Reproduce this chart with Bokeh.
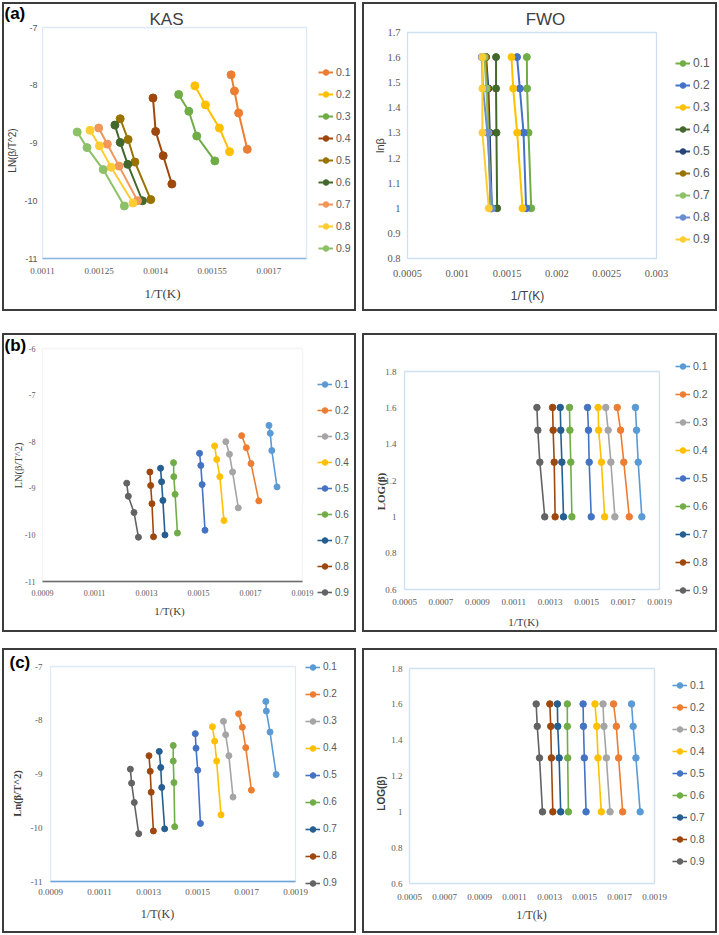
import math
from bokeh.plotting import figure
from bokeh.models import Legend, LegendItem, Label, FixedTicker, Range1d, Spacer, BoxAnnotation
from bokeh.layouts import column, row
from bokeh.embed import file_html
from bokeh.resources import INLINE

# ---------------- data ----------------
conversion = ["0.1", "0.2", "0.3", "0.4", "0.5", "0.6", "0.7", "0.8", "0.9"]
log_beta = [1.602, 1.477, 1.301, 1.0]  # heating rates 40, 30, 20, 10

# (a) KAS
kas_a_x = [
    [0.001600, 0.001609, 0.001620, 0.001643],
    [0.001504, 0.001532, 0.001569, 0.001596],
    [0.001461, 0.001488, 0.001509, 0.001557],
    [0.001393, 0.001400, 0.001420, 0.001443],
    [0.001306, 0.001327, 0.001345, 0.001387],
    [0.001292, 0.001306, 0.001326, 0.001365],
    [0.001249, 0.001272, 0.001303, 0.001352],
    [0.001226, 0.001251, 0.001282, 0.001340],
    [0.001192, 0.001218, 0.001261, 0.001317],
]
kas_a_y = [
    [-7.82, -8.10, -8.48, -9.11],
    [-8.01, -8.34, -8.74, -9.15],
    [-8.16, -8.45, -8.88, -9.31],
    [-8.22, -8.80, -9.22, -9.71],
    [-8.58, -8.94, -9.33, -9.98],
    [-8.69, -8.99, -9.37, -10.00],
    [-8.74, -9.02, -9.40, -10.00],
    [-8.78, -9.05, -9.42, -10.04],
    [-8.81, -9.08, -9.46, -10.09],
]
# (a) FWO
fwo_a_x = [
    [0.001698, 0.001701, 0.001715, 0.001742],
    [0.001600, 0.001628, 0.001665, 0.001691],
    [0.001544, 0.001561, 0.001601, 0.001655],
    [0.001389, 0.001389, 0.001393, 0.001400],
    [0.001289, 0.001312, 0.001326, 0.001346],
    [0.001285, 0.001302, 0.001316, 0.001332],
    [0.001272, 0.001292, 0.001309, 0.001339],
    [0.001245, 0.001258, 0.001302, 0.001349],
    [0.001252, 0.001252, 0.001252, 0.001316],
]
# (b) KAS
kas_b_x = [
    [0.001771, 0.001776, 0.001782, 0.001802],
    [0.001666, 0.001684, 0.001702, 0.001732],
    [0.001605, 0.001619, 0.001631, 0.001653],
    [0.001562, 0.001570, 0.001582, 0.001598],
    [0.001504, 0.001509, 0.001514, 0.001525],
    [0.001404, 0.001405, 0.001410, 0.001419],
    [0.001354, 0.001358, 0.001363, 0.001371],
    [0.001313, 0.001316, 0.001321, 0.001327],
    [0.001224, 0.001230, 0.001252, 0.001269],
]
kas_b_y = [
    [-7.65, -7.82, -8.19, -8.97],
    [-7.87, -8.13, -8.47, -9.27],
    [-8.00, -8.27, -8.65, -9.42],
    [-8.09, -8.38, -8.75, -9.69],
    [-8.25, -8.51, -8.92, -9.90],
    [-8.45, -8.75, -9.13, -9.96],
    [-8.57, -8.86, -9.26, -10.00],
    [-8.65, -8.94, -9.33, -10.04],
    [-8.89, -9.17, -9.52, -10.05],
]
# (b) FWO
fwo_b_x = [
    [0.001768, 0.001774, 0.001783, 0.001803],
    [0.001668, 0.001686, 0.001704, 0.001734],
    [0.001605, 0.001618, 0.001633, 0.001655],
    [0.001563, 0.001566, 0.001581, 0.001599],
    [0.001505, 0.001510, 0.001514, 0.001525],
    [0.001406, 0.001408, 0.001413, 0.001419],
    [0.001355, 0.001358, 0.001364, 0.001373],
    [0.001313, 0.001316, 0.001322, 0.001327],
    [0.001227, 0.001232, 0.001243, 0.001270],
]
# (c) KAS
kas_c_x = [
    [0.001779, 0.001781, 0.001796, 0.001821],
    [0.001668, 0.001683, 0.001697, 0.001720],
    [0.001606, 0.001615, 0.001628, 0.001645],
    [0.001561, 0.001570, 0.001578, 0.001596],
    [0.001491, 0.001494, 0.001501, 0.001512],
    [0.001401, 0.001401, 0.001404, 0.001407],
    [0.001344, 0.001350, 0.001354, 0.001366],
    [0.001302, 0.001307, 0.001311, 0.001320],
    [0.001226, 0.001231, 0.001242, 0.001260],
]
kas_c_y = [
    [-7.65, -7.83, -8.22, -9.01],
    [-7.88, -8.13, -8.51, -9.30],
    [-8.02, -8.27, -8.66, -9.43],
    [-8.12, -8.39, -8.76, -9.76],
    [-8.25, -8.52, -8.93, -9.92],
    [-8.47, -8.76, -9.16, -9.98],
    [-8.58, -8.88, -9.25, -10.02],
    [-8.66, -8.95, -9.34, -10.06],
    [-8.91, -9.17, -9.53, -10.11],
]
# (c) FWO
fwo_c_x = [
    [0.001769, 0.001778, 0.001794, 0.001818],
    [0.001666, 0.001682, 0.001695, 0.001718],
    [0.001606, 0.001611, 0.001625, 0.001646],
    [0.001560, 0.001570, 0.001577, 0.001596],
    [0.001492, 0.001494, 0.001499, 0.001509],
    [0.001402, 0.001402, 0.001404, 0.001408],
    [0.001345, 0.001347, 0.001355, 0.001364],
    [0.001302, 0.001307, 0.001311, 0.001319],
    [0.001224, 0.001230, 0.001243, 0.001260],
]

# axis ranges and ticks
kas_a_xrange = (0.0011, 0.0018)
kas_a_yrange = (-11, -7)
kas_a_xticks = [0.0011, 0.00125, 0.0014, 0.00155, 0.0017]
kas_a_xlabels = ["0.0011", "0.00125", "0.0014", "0.00155", "0.0017"]
kas_a_yticks = [-7, -8, -9, -10, -11]
kas_a_ylabels = ["-7", "-8", "-9", "-10", "-11"]
fwo_a_xrange = (0.0005, 0.003)
fwo_a_yrange = (0.8, 1.7)
fwo_a_xticks = [0.0005, 0.001, 0.0015, 0.002, 0.0025, 0.003]
fwo_a_xlabels = ["0.0005", "0.001", "0.0015", "0.002", "0.0025", "0.003"]
fwo_a_yticks = [0.8, 0.9, 1.0, 1.1, 1.2, 1.3, 1.4, 1.5, 1.6, 1.7]
fwo_a_ylabels = ["0.8", "0.9", "1", "1.1", "1.2", "1.3", "1.4", "1.5", "1.6", "1.7"]
kas_bc_xrange = (0.0009, 0.0019)
kas_bc_xticks = [0.0009, 0.0011, 0.0013, 0.0015, 0.0017, 0.0019]
kas_bc_xlabels = ["0.0009", "0.0011", "0.0013", "0.0015", "0.0017", "0.0019"]
kas_b_yrange = (-11, -6)
kas_b_yticks = [-6, -7, -8, -9, -10, -11]
kas_b_ylabels = ["-6", "-7", "-8", "-9", "-10", "-11"]
kas_c_yrange = (-11, -7)
kas_c_yticks = [-7, -8, -9, -10, -11]
kas_c_ylabels = ["-7", "-8", "-9", "-10", "-11"]
fwo_bc_xrange = (0.0005, 0.0019)
fwo_bc_yrange = (0.6, 1.8)
fwo_bc_xticks = [0.0005, 0.0007, 0.0009, 0.0011, 0.0013, 0.0015, 0.0017, 0.0019]
fwo_bc_xlabels = ["0.0005", "0.0007", "0.0009", "0.0011", "0.0013", "0.0015", "0.0017", "0.0019"]
fwo_bc_yticks = [0.6, 0.8, 1.0, 1.2, 1.4, 1.6, 1.8]
fwo_bc_ylabels = ["0.6", "0.8", "1", "1.2", "1.4", "1.6", "1.8"]

# colours (Excel palettes)
kas_a_colors = ["#ED7D31", "#FFC000", "#70AD47", "#9E480E", "#997300", "#43682B", "#F1975A", "#FFCD33", "#8CC168"]
fwo_a_colors = ["#70AD47", "#4472C4", "#FFC000", "#43682B", "#264478", "#997300", "#8CC168", "#698ED0", "#FFCD33"]
bc_colors = ["#5B9BD5", "#ED7D31", "#A5A5A5", "#FFC000", "#4472C4", "#70AD47", "#255E91", "#9E480E", "#636363"]

S = 1.0
SERIF = "Liberation Serif"
SANS = "Liberation Sans"


def panel(box, frame, xr, yr, xt, xl, yt, yl, xs, ys, colors, outline, texts, leg,
          xfont=SERIF, yfont=SERIF, tsize=9, xstand=8, ystand=6, msize=7, lw=2,
          leg_font=10.5, bottom_color=None):
    bx0, by0, bx1, by1 = box
    fx0, fy0, fx1, fy1 = frame
    w = round((bx1 - bx0) * S)
    h = round((by1 - by0) * S)
    # pixel position of the chart's plot area inside the panel (y from bottom)
    px0, px1 = (fx0 - bx0) * S, (fx1 - bx0) * S
    py0, py1 = (by1 - fy1) * S, (by1 - fy0) * S
    x0, x1 = xr
    y0, y1 = yr
    kx = (x1 - x0) / (px1 - px0)
    ky = (y1 - y0) / (py1 - py0)
    xs0 = x0 - px0 * kx
    ys0 = y0 - py0 * ky
    p = figure(width=w, height=h, x_range=Range1d(xs0, xs0 + w * kx), y_range=Range1d(ys0, ys0 + h * ky),
               output_backend="svg", toolbar_location=None, min_border=0)
    p.xgrid.visible = False
    p.ygrid.visible = False
    p.outline_line_color = "#3c3c3c"
    p.outline_line_width = 3
    p.add_layout(BoxAnnotation(left=x0, right=x1, bottom=y0, top=y1, fill_alpha=0,
                               line_color=outline, line_width=1.3))

    p.xaxis.fixed_location = y0
    p.xaxis.bounds = (x0, x1)
    p.yaxis.fixed_location = x0
    p.yaxis.bounds = (y0, y1)
    p.xaxis.ticker = FixedTicker(ticks=xt)
    p.xaxis.major_label_overrides = dict(zip(xt, xl))
    p.yaxis.ticker = FixedTicker(ticks=yt)
    p.yaxis.major_label_overrides = dict(zip(yt, yl))
    for ax in (p.xaxis[0], p.yaxis[0]):
        ax.axis_line_color = None
        ax.major_tick_line_color = None
        ax.minor_tick_line_color = None
        ax.major_tick_out = 0
        ax.major_tick_in = 0
        ax.major_label_text_color = "#595959"
        ax.major_label_text_font_size = f"{tsize}px"
    p.xaxis.major_label_text_font = xfont
    p.yaxis.major_label_text_font = yfont
    p.xaxis.major_label_standoff = xstand
    p.yaxis.major_label_standoff = ystand
    if bottom_color:
        p.xaxis.axis_line_color = bottom_color
        p.xaxis.axis_line_width = 1.3

    items = []
    for i, name in enumerate(conversion):
        yv = ys[i] if isinstance(ys[0], list) else ys
        lr = p.line(xs[i], yv, line_color=colors[i], line_width=lw)
        sr = p.scatter(xs[i], yv, marker="circle", size=msize, fill_color=colors[i], line_color=colors[i])
        items.append(LegendItem(label=name, renderers=[lr, sr]))

    def sx(X):
        return (X - bx0) * S

    def sy(Y):
        return (by1 - Y) * S

    gx, gy0, pitch = leg
    gh = 14
    spacing = round(pitch * S - gh)
    last = sy(gy0 + 8 * pitch)
    legend = Legend(items=items, location=(sx(gx), last - gh / 2), glyph_width=15, glyph_height=gh,
                    label_height=gh, spacing=spacing, padding=0, margin=0, border_line_color=None,
                    background_fill_alpha=0, label_text_font=SANS,
                    label_text_font_size=f"{leg_font}px", label_text_color="#595959", label_standoff=3)
    p.add_layout(legend)

    for (txt, X, Y, size, font, style, align, base, vert) in texts:
        p.add_layout(Label(x=sx(X), y=sy(Y), x_units="screen", y_units="screen", text=txt,
                           text_font=font, text_font_size=f"{size}px", text_font_style=style,
                           text_color="#000000" if txt.startswith("(") else "#404040",
                           text_align=align, text_baseline=base, angle=(math.pi / 2 if vert else 0)))
    return p


pa1 = panel((2, 2, 356, 311), (42, 27, 306, 258), kas_a_xrange, kas_a_yrange,
            kas_a_xticks, kas_a_xlabels, kas_a_yticks, kas_a_ylabels,
            kas_a_x, kas_a_y, kas_a_colors, "#8DB8E0",
            [("(a)", 4, 3, 17, SANS, "bold", "left", "top", False),
             ("KAS", 166, 19, 17, SANS, "normal", "center", "middle", False),
             ("LN(β/T^2)", 12, 150, 10, SANS, "normal", "center", "middle", True),
             ("1/T(K)", 162, 293, 13, SERIF, "normal", "center", "middle", False)],
            (318, 74, 21.7), xfont=SERIF, yfont=SANS, tsize=9, xstand=9, ystand=5, msize=8, lw=2,
            leg_font=10.5, bottom_color="#8DB8E0")

pa2 = panel((362, 2, 717, 311), (407, 32, 656, 258), fwo_a_xrange, fwo_a_yrange,
            fwo_a_xticks, fwo_a_xlabels, fwo_a_yticks, fwo_a_ylabels,
            fwo_a_x, log_beta, fwo_a_colors, "#5B9BD5",
            [("FWO", 545, 19, 17, SANS, "normal", "center", "middle", False),
             ("lnβ", 379, 145, 11, SANS, "normal", "center", "middle", True),
             ("1/T(K)", 527, 295, 12, SANS, "normal", "center", "middle", False)],
            (675, 63, 22), xfont=SERIF, yfont=SERIF, tsize=10.5, xstand=11, ystand=7, msize=7, lw=2,
            leg_font=12)

pb1 = panel((2, 333, 356, 632), (42, 348, 302, 581), kas_bc_xrange, kas_b_yrange,
            kas_bc_xticks, kas_bc_xlabels, kas_b_yticks, kas_b_ylabels,
            kas_b_x, kas_b_y, bc_colors, "#D9D9D9",
            [("(b)", 4, 335, 17, SANS, "bold", "left", "top", False),
             ("LN(β/T^2)", 18, 465, 10.5, SERIF, "normal", "center", "middle", True),
             ("1/T(K)", 169, 610, 11, SERIF, "normal", "center", "middle", False)],
            (317, 388, 25.5), tsize=8, xstand=8, ystand=7, msize=6, lw=1.6, leg_font=10,
            bottom_color="#404040")

pb2 = panel((362, 333, 717, 632), (404, 371, 659, 589), fwo_bc_xrange, fwo_bc_yrange,
            fwo_bc_xticks, fwo_bc_xlabels, fwo_bc_yticks, fwo_bc_ylabels,
            fwo_b_x, log_beta, bc_colors, "#5B9BD5",
            [("LOG(β)", 380, 491, 11, SERIF, "bold", "center", "middle", True),
             ("1/T(K)", 523, 621, 11, SERIF, "normal", "center", "middle", False)],
            (675, 368, 27.8), tsize=9, xstand=9, ystand=8, msize=6.5, lw=1.6, leg_font=10.5)

pc1 = panel((2, 648, 356, 933), (50, 666, 295, 881), kas_bc_xrange, kas_c_yrange,
            kas_bc_xticks, kas_bc_xlabels, kas_c_yticks, kas_c_ylabels,
            kas_c_x, kas_c_y, bc_colors, "#8DB8E0",
            [("(c)", 9, 652, 17, SANS, "bold", "left", "top", False),
             ("Ln(β/T^2)", 17, 793, 10.5, SERIF, "bold", "center", "middle", True),
             ("1/T(K)", 157, 913, 12, SERIF, "normal", "center", "middle", False)],
            (305, 670, 26.6), tsize=9, xstand=7, ystand=8, msize=6, lw=1.6, leg_font=10,
            bottom_color="#5B9BD5")

pc2 = panel((362, 648, 717, 933), (409, 668, 654, 883), fwo_bc_xrange, fwo_bc_yrange,
            fwo_bc_xticks, fwo_bc_xlabels, fwo_bc_yticks, fwo_bc_ylabels,
            fwo_c_x, log_beta, bc_colors, "#5B9BD5",
            [("LOG(β)", 381, 793, 10, SANS, "bold", "center", "middle", True),
             ("1/T(k)", 531, 914, 12, SERIF, "normal", "center", "middle", False)],
            (672, 683, 22.2), tsize=9, xstand=10, ystand=7, msize=6.5, lw=1.6, leg_font=10.5)


def panel_row(left, right):
    return row(Spacer(width=2, height=10), left, Spacer(width=6, height=10), right, spacing=0)


layout = column(
    Spacer(height=2, width=10),
    panel_row(pa1, pa2),
    Spacer(height=22, width=10),
    panel_row(pb1, pb2),
    Spacer(height=16, width=10),
    panel_row(pc1, pc2),
    spacing=0,
)

open("out.html", "w").write(file_html(layout, INLINE))
